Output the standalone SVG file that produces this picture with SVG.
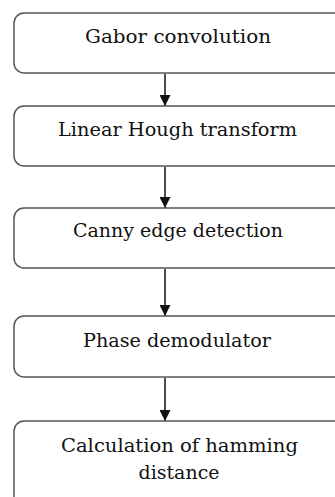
<svg xmlns="http://www.w3.org/2000/svg" width="335" height="497" viewBox="0 0 335 497">
<style>
.box{fill:#fff;stroke:#555;stroke-width:1.5}
text{font-family:'DejaVu Serif',serif;font-size:19px;fill:#111;text-anchor:middle}
.c{stroke:#111;stroke-width:1.5;fill:none}
</style>
<defs>
<marker id="ah" markerWidth="11" markerHeight="11" refX="11" refY="5.5" orient="auto" markerUnits="userSpaceOnUse" viewBox="0 0 11 11">
<path d="M0,0 L11,5.5 L0,11 Z" fill="#111"/>
</marker>
</defs>
<rect width="335" height="497" fill="#fff"/>
<g id="connectors">
<line class="c" x1="165" y1="74" x2="165" y2="106" marker-end="url(#ah)"/>
<line class="c" x1="165" y1="167" x2="165" y2="208" marker-end="url(#ah)"/>
<line class="c" x1="165" y1="269" x2="165" y2="316" marker-end="url(#ah)"/>
<line class="c" x1="165" y1="378" x2="165" y2="421" marker-end="url(#ah)"/>
</g>
<g id="n1"><rect class="box" x="14" y="13" width="340" height="60" rx="10"/>
<text x="178" y="43" textLength="186" lengthAdjust="spacingAndGlyphs">Gabor convolution</text></g>
<g id="n2"><rect class="box" x="14" y="106" width="340" height="60" rx="10"/>
<text x="177.5" y="136" textLength="239" lengthAdjust="spacingAndGlyphs">Linear Hough transform</text></g>
<g id="n3"><rect class="box" x="14" y="208" width="340" height="60" rx="10"/>
<text x="178" y="237" textLength="210" lengthAdjust="spacingAndGlyphs">Canny edge detection</text></g>
<g id="n4"><rect class="box" x="14" y="316" width="340" height="61" rx="10"/>
<text x="177" y="347" textLength="188" lengthAdjust="spacingAndGlyphs">Phase demodulator</text></g>
<g id="n5"><rect class="box" x="14" y="421" width="340" height="90" rx="10"/>
<text x="179.5" y="452" textLength="237" lengthAdjust="spacingAndGlyphs">Calculation of hamming</text>
<text x="179" y="479" textLength="81" lengthAdjust="spacingAndGlyphs">distance</text></g>
</svg>
